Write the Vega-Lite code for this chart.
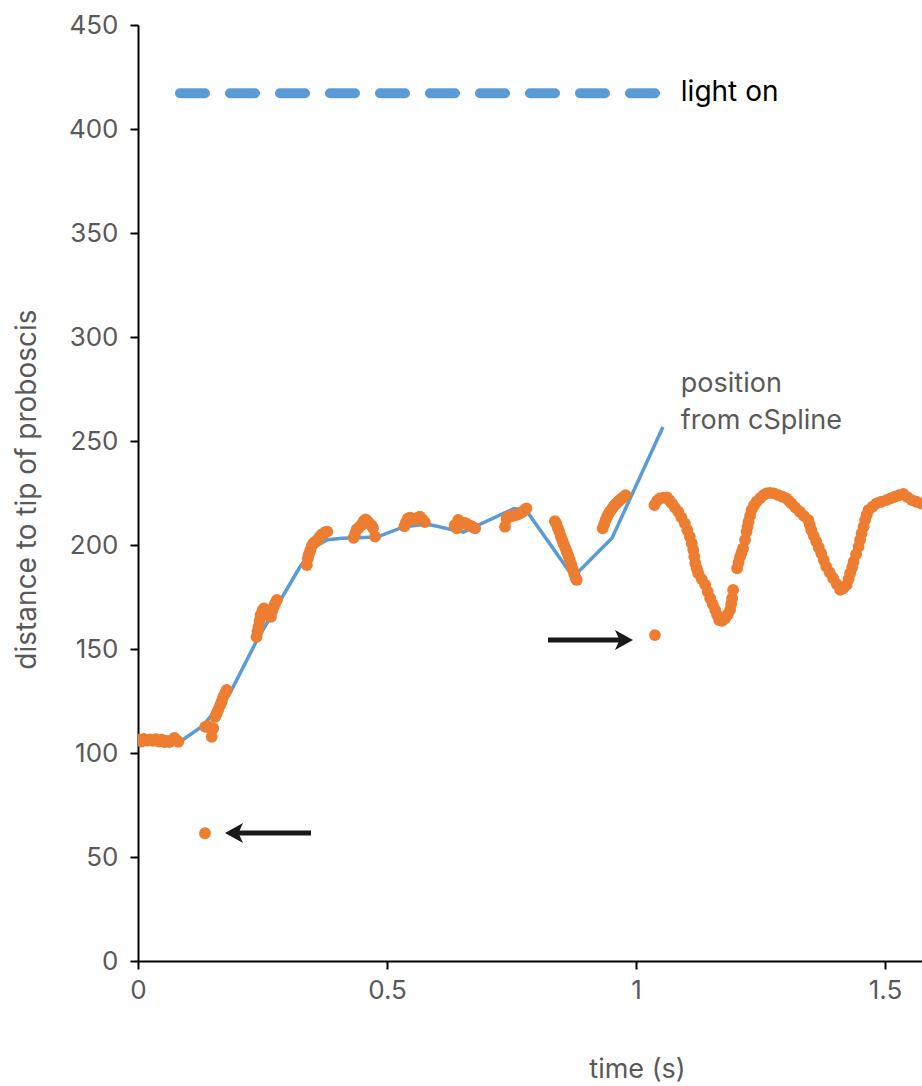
{
  "$schema": "https://vega.github.io/schema/vega-lite/v6.json",
  "width": 784,
  "height": 936,
  "autosize": {"type": "none"},
  "padding": {"left": 138, "top": 25, "right": 0, "bottom": 125},
  "background": "white",
  "config": {
    "view": {"stroke": null},
    "font": "Inter",
    "axis": {
      "domainColor": "black", "domainWidth": 2, "tickColor": "black", "tickWidth": 2, "tickSize": 8,
      "labelColor": "#595959", "labelFontSize": 26, "labelFont": "Inter",
      "titleColor": "#595959", "titleFontSize": 27, "titleFontWeight": "normal", "titleFont": "Inter",
      "grid": false, "labelOverlap": false, "labelFlush": false, "labelBound": false
    }
  },
  "datasets": {
    "light": [{"t0": 0.0843, "t1": 1.0382, "d": 417.2, "label": "light on"}],
    "spline": [
      {"t": 0, "d": 105.5}, {"t": 0.085, "d": 105.5}, {"t": 0.13, "d": 113}, {"t": 0.185, "d": 129},
      {"t": 0.239, "d": 154.3}, {"t": 0.325, "d": 189.4}, {"t": 0.355, "d": 199}, {"t": 0.38, "d": 202.5},
      {"t": 0.41, "d": 203.3}, {"t": 0.48, "d": 203.8}, {"t": 0.532, "d": 208.6}, {"t": 0.58, "d": 210.1},
      {"t": 0.653, "d": 206.2}, {"t": 0.755, "d": 217.5}, {"t": 0.78, "d": 216.5}, {"t": 0.874, "d": 184.6},
      {"t": 0.952, "d": 203.4}, {"t": 1.054, "d": 256.7}
    ],
    "dots": [
      {"t": 0.002, "d": 106.5}, {"t": 0.007, "d": 105.5}, {"t": 0.012, "d": 106.8}, {"t": 0.018, "d": 106}, {"t": 0.024, "d": 106.5}, {"t": 0.03, "d": 105.8}, {"t": 0.036, "d": 106.6}, {"t": 0.042, "d": 105.5}, {"t": 0.048, "d": 106.4}, {"t": 0.053, "d": 105.2}, {"t": 0.058, "d": 105.8}, {"t": 0.063, "d": 105.3}, {"t": 0.068, "d": 106}, {"t": 0.073, "d": 107.2}, {"t": 0.078, "d": 106.2}, {"t": 0.081, "d": 105.4},
      {"t": 0.1345, "d": 61.4},
      {"t": 0.135, "d": 112.6}, {"t": 0.14, "d": 113}, {"t": 0.145, "d": 112}, {"t": 0.148, "d": 107.8}, {"t": 0.151, "d": 111.9}, {"t": 0.155, "d": 117.4}, {"t": 0.158, "d": 119}, {"t": 0.161, "d": 120.7}, {"t": 0.165, "d": 123}, {"t": 0.168, "d": 124.7}, {"t": 0.171, "d": 127}, {"t": 0.175, "d": 128.7}, {"t": 0.178, "d": 130.3},
      {"t": 0.238, "d": 155.9}, {"t": 0.24, "d": 158.5}, {"t": 0.242, "d": 160.7}, {"t": 0.244, "d": 163.5}, {"t": 0.246, "d": 166.3}, {"t": 0.25, "d": 168.5}, {"t": 0.253, "d": 169.5}, {"t": 0.258, "d": 168.5}, {"t": 0.263, "d": 166}, {"t": 0.267, "d": 165.5}, {"t": 0.27, "d": 168.5}, {"t": 0.273, "d": 170.5}, {"t": 0.276, "d": 172.3}, {"t": 0.279, "d": 173.6},
      {"t": 0.339, "d": 190.4}, {"t": 0.341, "d": 193.5}, {"t": 0.343, "d": 195.5}, {"t": 0.346, "d": 197.5}, {"t": 0.349, "d": 199.5}, {"t": 0.352, "d": 200.8}, {"t": 0.356, "d": 201.6}, {"t": 0.36, "d": 202.3}, {"t": 0.364, "d": 203.6}, {"t": 0.368, "d": 204.8}, {"t": 0.372, "d": 205.5}, {"t": 0.376, "d": 206.2}, {"t": 0.38, "d": 206.4},
      {"t": 0.433, "d": 203.5}, {"t": 0.436, "d": 205.5}, {"t": 0.439, "d": 207.5}, {"t": 0.443, "d": 208.2}, {"t": 0.448, "d": 209.5}, {"t": 0.453, "d": 211.5}, {"t": 0.457, "d": 212.3}, {"t": 0.461, "d": 211.5}, {"t": 0.465, "d": 210.2}, {"t": 0.469, "d": 209.4}, {"t": 0.472, "d": 208.2}, {"t": 0.476, "d": 204},
      {"t": 0.535, "d": 209}, {"t": 0.538, "d": 211}, {"t": 0.542, "d": 212.8}, {"t": 0.547, "d": 213.2}, {"t": 0.552, "d": 212.5}, {"t": 0.557, "d": 212.2}, {"t": 0.562, "d": 213.2}, {"t": 0.566, "d": 213.6}, {"t": 0.571, "d": 212.4}, {"t": 0.576, "d": 211},
      {"t": 0.636, "d": 209.5}, {"t": 0.64, "d": 208}, {"t": 0.643, "d": 212}, {"t": 0.647, "d": 211}, {"t": 0.652, "d": 210.3}, {"t": 0.657, "d": 210.6}, {"t": 0.661, "d": 210}, {"t": 0.665, "d": 209.4}, {"t": 0.669, "d": 209}, {"t": 0.673, "d": 208.6}, {"t": 0.677, "d": 208},
      {"t": 0.737, "d": 208.8}, {"t": 0.74, "d": 212.5}, {"t": 0.743, "d": 213.6}, {"t": 0.748, "d": 213.8}, {"t": 0.753, "d": 214}, {"t": 0.758, "d": 214.4}, {"t": 0.763, "d": 214.8}, {"t": 0.768, "d": 215.3}, {"t": 0.772, "d": 216}, {"t": 0.776, "d": 216.8}, {"t": 0.78, "d": 217.6},
      {"t": 0.837, "d": 211.5}, {"t": 0.84, "d": 210.2}, {"t": 0.843, "d": 208.2}, {"t": 0.846, "d": 206.4}, {"t": 0.849, "d": 204.2}, {"t": 0.852, "d": 202.2}, {"t": 0.855, "d": 200.4}, {"t": 0.858, "d": 198.6}, {"t": 0.861, "d": 196.8}, {"t": 0.864, "d": 194.8}, {"t": 0.867, "d": 192.8}, {"t": 0.87, "d": 190.6}, {"t": 0.873, "d": 188.4}, {"t": 0.876, "d": 186}, {"t": 0.879, "d": 184}, {"t": 0.881, "d": 183.2},
      {"t": 0.933, "d": 208}, {"t": 0.936, "d": 210}, {"t": 0.939, "d": 212}, {"t": 0.942, "d": 213.6}, {"t": 0.945, "d": 215}, {"t": 0.948, "d": 216.2}, {"t": 0.952, "d": 217.5}, {"t": 0.955, "d": 218.6}, {"t": 0.959, "d": 219.6}, {"t": 0.963, "d": 220.6}, {"t": 0.967, "d": 221.5}, {"t": 0.971, "d": 222.3}, {"t": 0.975, "d": 223.1}, {"t": 0.979, "d": 224},
      {"t": 1.038, "d": 156.7},
      {"t": 1.037, "d": 219.2}, {"t": 1.042, "d": 221.2}, {"t": 1.048, "d": 222.4}, {"t": 1.055, "d": 222.8}, {"t": 1.062, "d": 222.9}, {"t": 1.067, "d": 221.5}, {"t": 1.072, "d": 220}, {"t": 1.078, "d": 218}, {"t": 1.085, "d": 216}, {"t": 1.091, "d": 213.3}, {"t": 1.098, "d": 210.4}, {"t": 1.103, "d": 207.2}, {"t": 1.108, "d": 204}, {"t": 1.112, "d": 200.8}, {"t": 1.115, "d": 197.6}, {"t": 1.117, "d": 194.4}, {"t": 1.119, "d": 191.2}, {"t": 1.122, "d": 188.8}, {"t": 1.125, "d": 186.4}, {"t": 1.132, "d": 183.6}, {"t": 1.139, "d": 180.8}, {"t": 1.144, "d": 177.6}, {"t": 1.149, "d": 174.4}, {"t": 1.154, "d": 171.6}, {"t": 1.159, "d": 168.8}, {"t": 1.163, "d": 166.3}, {"t": 1.167, "d": 163.9}, {"t": 1.173, "d": 163.6}, {"t": 1.179, "d": 164.8}, {"t": 1.184, "d": 166.6}, {"t": 1.189, "d": 168.8}, {"t": 1.191, "d": 171.6}, {"t": 1.193, "d": 174.4}, {"t": 1.195, "d": 178.4},
      {"t": 1.203, "d": 188.8}, {"t": 1.206, "d": 191.6}, {"t": 1.209, "d": 194.4}, {"t": 1.212, "d": 196.4}, {"t": 1.215, "d": 198.4}, {"t": 1.219, "d": 202.4}, {"t": 1.222, "d": 206.4}, {"t": 1.224, "d": 208.8}, {"t": 1.226, "d": 211.2}, {"t": 1.229, "d": 214}, {"t": 1.232, "d": 216.8}, {"t": 1.237, "d": 219}, {"t": 1.242, "d": 220.8}, {"t": 1.249, "d": 222.5}, {"t": 1.256, "d": 224}, {"t": 1.262, "d": 224.8}, {"t": 1.269, "d": 225.1}, {"t": 1.277, "d": 224.8}, {"t": 1.286, "d": 224}, {"t": 1.294, "d": 223.2}, {"t": 1.302, "d": 222.4}, {"t": 1.307, "d": 221.2}, {"t": 1.312, "d": 220}, {"t": 1.32, "d": 218}, {"t": 1.329, "d": 216}, {"t": 1.337, "d": 214}, {"t": 1.346, "d": 212}, {"t": 1.349, "d": 209.6}, {"t": 1.352, "d": 207.2}, {"t": 1.357, "d": 204.4}, {"t": 1.362, "d": 201.6}, {"t": 1.367, "d": 198.8}, {"t": 1.372, "d": 196}, {"t": 1.377, "d": 192.8}, {"t": 1.382, "d": 189.6}, {"t": 1.389, "d": 186.8}, {"t": 1.396, "d": 184}, {"t": 1.403, "d": 181.2}, {"t": 1.41, "d": 178.4}, {"t": 1.416, "d": 179.2}, {"t": 1.423, "d": 180.8}, {"t": 1.427, "d": 183.6}, {"t": 1.43, "d": 186.4}, {"t": 1.434, "d": 189.2}, {"t": 1.437, "d": 192}, {"t": 1.442, "d": 195.6}, {"t": 1.447, "d": 199.2}, {"t": 1.45, "d": 202.4}, {"t": 1.453, "d": 205.6}, {"t": 1.457, "d": 208.8}, {"t": 1.46, "d": 212}, {"t": 1.463, "d": 214.4}, {"t": 1.467, "d": 216.8}, {"t": 1.475, "d": 218.4}, {"t": 1.483, "d": 220}, {"t": 1.493, "d": 220.8}, {"t": 1.503, "d": 221.6}, {"t": 1.511, "d": 222.4}, {"t": 1.52, "d": 223.2}, {"t": 1.528, "d": 223.9}, {"t": 1.537, "d": 224.5}, {"t": 1.545, "d": 223}, {"t": 1.554, "d": 221.6}, {"t": 1.563, "d": 220.8}, {"t": 1.572, "d": 220}, {"t": 1.58, "d": 219.5}
    ],
    "arrows": [
      {"tip": 0.1747, "tail": 0.3474, "shaftEnd": 0.19, "d": 61.5, "dir": "left"},
      {"tip": 0.994, "tail": 0.8233, "shaftEnd": 0.975, "d": 154.3, "dir": "right"}
    ],
    "notes": [
      {"t": 1.09, "d": 413.5, "text": "light on", "kind": "light", "size": "big"},
      {"t": 1.09, "d": 273.6, "text": "position\nfrom cSpline", "kind": "spline", "size": "mid"}
    ]
  },
  "layer": [
    {
      "data": {"name": "light"},
      "mark": {"type": "rule", "color": "#5b9bd5", "strokeWidth": 10, "strokeDash": [25, 25], "strokeCap": "round"},
      "encoding": {
        "x": {"field": "t0", "type": "quantitative", "scale": {"domain": [0, 1.5743], "nice": false, "zero": false},
          "axis": {"values": [0, 0.5, 1, 1.5], "format": "~g", "labelPadding": 8, "title": "time (s)",
            "titleX": 499, "titleY": 108, "titleAlign": "center", "titleBaseline": "middle"}},
        "x2": {"field": "t1"},
        "y": {"field": "d", "type": "quantitative", "scale": {"domain": [0, 450], "nice": false},
          "axis": {"values": [0, 50, 100, 150, 200, 250, 300, 350, 400, 450], "labelPadding": 12,
            "title": "distance to tip of proboscis", "titleFontSize": 28, "titleAngle": -90, "titleX": -111, "titleY": 464,
            "titleAlign": "center", "titleBaseline": "middle"}}
      }
    },
    {
      "data": {"name": "spline"},
      "mark": {"type": "line", "color": "#5b9bd5", "strokeWidth": 3.5, "clip": true},
      "encoding": {
        "x": {"field": "t", "type": "quantitative"},
        "y": {"field": "d", "type": "quantitative"},
        "order": {"field": "t"}
      }
    },
    {
      "data": {"name": "dots"},
      "mark": {"type": "circle", "color": "#ed7d31", "opacity": 1, "size": 140, "clip": true},
      "encoding": {
        "x": {"field": "t", "type": "quantitative"},
        "y": {"field": "d", "type": "quantitative"}
      }
    },
    {
      "data": {"name": "arrows"},
      "mark": {"type": "rule", "color": "#1a1a1a", "strokeWidth": 5},
      "encoding": {
        "x": {"field": "tail", "type": "quantitative"},
        "x2": {"field": "shaftEnd"},
        "y": {"field": "d", "type": "quantitative"}
      }
    },
    {
      "data": {"name": "arrows"},
      "mark": {"type": "point", "filled": true, "size": 400, "color": "#1a1a1a", "opacity": 1},
      "encoding": {
        "x": {"field": "tip", "type": "quantitative"},
        "y": {"field": "d", "type": "quantitative"},
        "shape": {"field": "dir", "type": "nominal", "legend": null,
          "scale": {"domain": ["left", "right"], "range": ["M0,0 L1.8,-1 L1.35,0 L1.8,1 Z", "M0,0 L-1.8,-1 L-1.35,0 L-1.8,1 Z"]}}
      }
    },
    {
      "data": {"name": "notes"},
      "mark": {"type": "text", "align": "left", "baseline": "alphabetic", "lineBreak": "\n", "lineHeight": 37, "font": "Inter"},
      "encoding": {
        "x": {"field": "t", "type": "quantitative"},
        "y": {"field": "d", "type": "quantitative"},
        "text": {"field": "text"},
        "size": {"field": "size", "type": "nominal", "legend": null,
          "scale": {"domain": ["big", "mid"], "range": [28, 27]}},
        "color": {"field": "kind", "type": "nominal", "legend": null,
          "scale": {"domain": ["light", "spline"], "range": ["#000000", "#595959"]}}
      }
    }
  ]
}
